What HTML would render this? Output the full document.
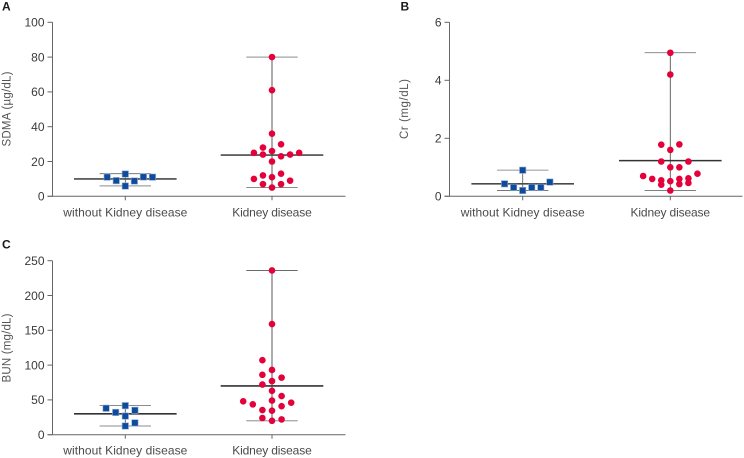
<!DOCTYPE html>
<html lang="en">
<head>
<meta charset="utf-8">
<title>Kidney disease biomarkers</title>
<style>
html,body{margin:0;padding:0;background:#fff;}
svg{display:block;font-family:"Liberation Sans",sans-serif;}
</style>
</head>
<body>
<svg id="chart" width="744" height="458" viewBox="0 0 744 458" xmlns="http://www.w3.org/2000/svg"></svg>
<script>
/* Shared categories */
const categories = ["without Kidney disease", "Kidney disease"];

/* Panel A: SDMA */
const sdmaTicks = [0, 20, 40, 60, 80, 100];
const sdmaControl = [11, 9, 12.8, 5.9, 8.8, 11.1, 11];
const sdmaControlSlots = [-2, -1, 0, 0, 1, 2, 3];
const sdmaControlSummary = [6, 10, 13];
const sdmaKidney = [80, 61, 36, 29.9, 28, 26, 25, 24, 23, 24, 25, 20, 13, 12, 11, 10, 9, 7, 7, 5];
const sdmaKidneySlots = [0, 0, 0, 1, -1, 0, -2, -1, 1, 2, 3, 0, 1, -1, 0, -2, 2, -1, 1, 0];
const sdmaKidneySummary = [5, 23.7, 80];

/* Panel B: Cr */
const crTicks = [0, 2, 4, 6];
const crControl = [0.43, 0.31, 0.9, 0.2, 0.31, 0.31, 0.49];
const crControlSlots = [-2, -1, 0, 0, 1, 2, 3];
const crControlSummary = [0.2, 0.43, 0.9];
const crKidney = [4.95, 4.2, 1.78, 1.79, 1.6, 1.2, 1.2, 1, 1, 0.7, 0.78, 0.6, 0.55, 0.4, 0.52, 0.6, 0.42, 0.62, 0.46, 0.2];
const crKidneySlots = [0, 0, -1, 1, 0, -1, 2, 0, 1, -3, 3, -2, -1, -1, 0, 1, 1, 2, 2, 0];
const crKidneySummary = [0.2, 1.23, 4.95];

/* Panel C: BUN */
const bunTicks = [0, 50, 100, 150, 200, 250];
const bunControl = [38, 32, 41.7, 26.8, 12.5, 35, 17];
const bunControlSlots = [-2, -1, 0, 0, 0, 1, 1];
const bunControlSummary = [12.5, 30, 42];
const bunKidney = [236, 159, 107, 93, 86, 82, 77, 72, 63, 55.5, 49, 48, 43.6, 46, 41, 35.4, 34.5, 24, 22, 20];
const bunKidneySlots = [0, 0, -1, 0, -1, 1, 0, -1, 0, 1, 0, -3, -2, 2, 1, -1, 0, -1, 1, 0];
const bunKidneySummary = [20, 70, 236];

const svg = document.getElementById('chart');
const NS = 'http://www.w3.org/2000/svg';

function make(tag, attrs, parent) {
  const el = document.createElementNS(NS, tag);
  for (const k in attrs) el.setAttribute(k, attrs[k]);
  parent.appendChild(el);
  return el;
}

function line(parent, x1, y1, x2, y2, color, width) {
  return make('line', {x1: x1, y1: y1, x2: x2, y2: y2, stroke: color, 'stroke-width': width}, parent);
}

function drawSummary(g, cx, y, summary, st) {
  const stem = line(g, cx, y(summary[0]), cx, y(summary[2]), st.stem, st.stemW);
  
  
  const low = line(g, cx - 25.7, y(summary[0]), cx + 25.7, y(summary[0]), st.low, st.lowW);
  
  
  const high = line(g, cx - 25.7, y(summary[2]), cx + 25.7, y(summary[2]), st.high, st.highW);
  
  
  const med = line(g, cx - 51.3, y(summary[1]), cx + 51.3, y(summary[1]), st.med, 1.6);
  
  
}

function drawPanel(p) {
  const g = make('g', {}, svg);
  
  

  const maxV = p.ticks[p.ticks.length - 1];
  const y = function (v) { return p.y0 - (v / maxV) * (p.y0 - p.yTop); };
  const xCat = function (i) { return p.axisX + (i === 0 ? p.cat1 : p.cat2); };
  const xPoint = function (i, slot) { return xCat(i) + slot * p.slotW; };

  const letter = make('text', {x: p.letterX, y: p.letterY, 'font-size': 12, 'font-weight': 'bold', fill: '#1a1a1a'}, g);
  letter.textContent = p.letter;
  
  

  const yAxis = line(g, p.axisX, p.yTop, p.axisX, p.y0, '#666', 1);
  
  
  const xAxis = line(g, p.axisX - 5, p.y0, p.axisX + 293, p.y0, '#666', 1);
  
  

  p.ticks.forEach(function (t) {
    const tick = line(g, p.axisX - 5, y(t), p.axisX, y(t), '#666', 1);
    
    
    const lab = make('text', {x: p.axisX - 8, y: y(t) + 4.3, 'font-size': 12, 'text-anchor': 'end', fill: '#3a3a3a'}, g);
    lab.textContent = t;
    
    
  });

  categories.forEach(function (c, i) {
    const tick = line(g, xCat(i), p.y0, xCat(i), p.y0 + 4, '#666', 1);
    
    
    const lab = make('text', {x: xCat(i), y: p.y0 + 20, 'font-size': 12, 'text-anchor': 'middle', fill: '#4a4a4a', textLength: i === 0 ? 124 : 79.5, lengthAdjust: 'spacing'}, g);
    lab.textContent = c;
    
    
  });

  const title = make('text', {x: p.titleX, y: p.titleY, 'font-size': 11.5, 'text-anchor': 'middle', fill: '#555', transform: 'rotate(-90 ' + p.titleX + ' ' + p.titleY + ')', textLength: p.titleLen, lengthAdjust: 'spacing'}, g);
  title.textContent = p.title;
  
  

  drawSummary(g, xCat(0), y, p.controlSummary, p.controlStyle);
  drawSummary(g, xCat(1), y, p.kidneySummary, p.kidneyStyle);

  p.control.forEach(function (v, i) {
    const s = make('rect', {x: xPoint(0, p.controlSlots[i]) - 3.2, y: y(v) - 3.2, width: 6.4, height: 6.4, fill: '#0f4a9b', stroke: '#8fb0d8', 'stroke-width': 0.6}, g);
    
    
  });
  p.kidney.forEach(function (v, i) {
    const c = make('circle', {cx: xPoint(1, p.kidneySlots[i]), cy: y(v), r: 3.3, fill: '#e4003a'}, g);
    
    
  });
}

const GREY = '#a3a3a3', DARK = '#4a4a4a', MED = '#333';

drawPanel({
  letter: 'A', letterX: 2, letterY: 10.5, title: 'SDMA (µg/dL)', titleX: 10.5, titleY: 109, titleLen: 75,
  axisX: 52.5, cat1: 72.8, cat2: 219.5, yTop: 22.3, y0: 196.3, slotW: 9.05, ticks: sdmaTicks,
  control: sdmaControl, controlSlots: sdmaControlSlots, controlSummary: sdmaControlSummary,
  kidney: sdmaKidney, kidneySlots: sdmaKidneySlots, kidneySummary: sdmaKidneySummary,
  controlStyle: {stem: DARK, stemW: 0.8, low: GREY, lowW: 1.2, high: '#666', highW: 0.8, med: DARK},
  kidneyStyle: {stem: GREY, stemW: 1.8, low: '#666', lowW: 0.8, high: GREY, highW: 1.2, med: DARK}
});

drawPanel({
  letter: 'B', letterX: 400.5, letterY: 10.5, title: 'Cr (mg/dL)', titleX: 408, titleY: 109, titleLen: 60,
  axisX: 449.5, cat1: 73.2, cat2: 220.8, yTop: 22.3, y0: 196.3, slotW: 9.05, ticks: crTicks,
  control: crControl, controlSlots: crControlSlots, controlSummary: crControlSummary,
  kidney: crKidney, kidneySlots: crKidneySlots, kidneySummary: crKidneySummary,
  controlStyle: {stem: '#666', stemW: 0.9, low: DARK, lowW: 0.8, high: GREY, highW: 1.2, med: DARK},
  kidneyStyle: {stem: '#555', stemW: 0.9, low: '#555', lowW: 0.8, high: '#666', highW: 0.8, med: MED}
});

drawPanel({
  letter: 'C', letterX: 2, letterY: 248.5, title: 'BUN (mg/dL)', titleX: 10.5, titleY: 348, titleLen: 69,
  axisX: 52.5, cat1: 72.8, cat2: 219.5, yTop: 260.7, y0: 434.7, slotW: 9.6, ticks: bunTicks,
  control: bunControl, controlSlots: bunControlSlots, controlSummary: bunControlSummary,
  kidney: bunKidney, kidneySlots: bunKidneySlots, kidneySummary: bunKidneySummary,
  controlStyle: {stem: '#555', stemW: 0.9, low: '#666', lowW: 0.8, high: '#666', highW: 0.8, med: MED},
  kidneyStyle: {stem: GREY, stemW: 1.8, low: GREY, lowW: 1.2, high: '#555', highW: 0.8, med: MED}
});
</script>
</body>
</html>
